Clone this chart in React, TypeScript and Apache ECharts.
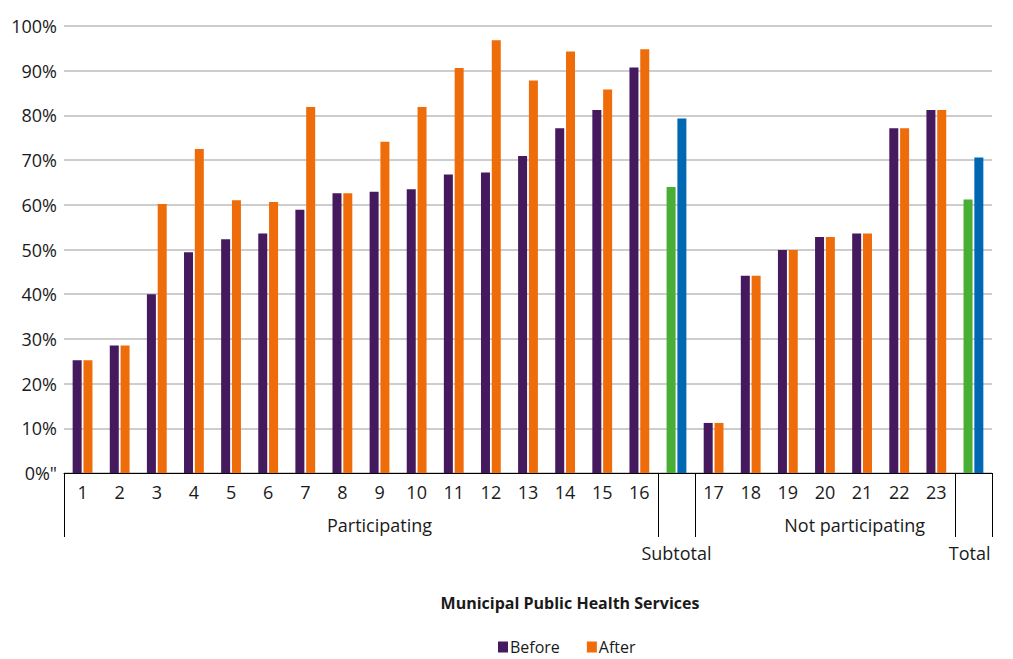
import React, { useEffect, useRef } from 'react';
import * as echarts from 'echarts';

const categories = [
  '1', '2', '3', '4', '5', '6', '7', '8', '9', '10', '11', '12', '13', '14', '15', '16',
  'Subtotal',
  '17', '18', '19', '20', '21', '22', '23',
  'Total',
];
const before = [
  25.2, 28.5, 40.0, 49.4, 52.3, 53.6, 58.9, 62.6, 62.9, 63.5, 66.8, 67.2, 70.9, 77.1, 81.2, 90.7,
  64.0,
  11.2, 44.1, 49.9, 52.8, 53.6, 77.1, 81.2,
  61.2,
];
const after = [
  25.2, 28.5, 60.2, 72.5, 61.0, 60.6, 81.9, 62.6, 74.1, 81.9, 90.6, 96.8, 87.8, 94.3, 85.8, 94.8,
  79.3,
  11.2, 44.1, 49.9, 52.8, 53.6, 77.1, 81.2,
  70.6,
];
const yTickLabels = ['0%"', '10%', '20%', '30%', '40%', '50%', '60%', '70%', '80%', '90%', '100%'];
const groupNames = ['Participating', 'Not participating'];
const totalNames = ['Subtotal', 'Total'];
const seriesNames = ['Before', 'After'];
const axisTitle = 'Municipal Public Health Services';

const PURPLE = '#45195d';
const ORANGE = '#ee6c09';
const GREEN = '#48ae34';
const BLUE = '#0068b2';
const TEXT = '#1a1a1a';
const FONT = '"Open Sans", "Noto Sans", sans-serif';

export default function App() {
  const ref = useRef<HTMLDivElement>(null);
  useEffect(() => {
    if (!ref.current) return;
    const chart = echarts.init(ref.current, undefined, { renderer: 'svg' });
    const isTotal = (i: number) => totalNames.includes(categories[i]);
    const boundaryIdx = categories
      .map((c, i) => (i === 0 || isTotal(i) || (i > 0 && isTotal(i - 1)) ? i : -1))
      .filter((i) => i >= 0);
    // group label placement on a 0..250 helper scale (tenths of a category band)
    const groupPos: Record<number, string> = { 85: groupNames[0], 213: groupNames[1] };
    const totalPos: Record<number, string> = { 165: totalNames[0], 244: totalNames[1] };

    const option: any = {
      animation: false,
      textStyle: { fontFamily: FONT },
      grid: { left: 64, right: 21, top: 26, bottom: 186, containLabel: false },
      legend: {
        data: seriesNames,
        left: 493,
        top: 634,
        icon: 'rect',
        itemWidth: 10,
        itemHeight: 11,
        itemGap: 27,
        textStyle: { fontSize: 16, color: TEXT, fontFamily: FONT, padding: [0, 0, 0, -3] },
      },
      graphic: [
        {
          type: 'text',
          x: 570,
          y: 603,
          style: {
            text: axisTitle,
            fontSize: 16,
            fontWeight: 'bold',
            fontFamily: FONT,
            fill: TEXT,
            textAlign: 'center',
            textVerticalAlign: 'middle',
          },
        },
      ],
      xAxis: [
        {
          type: 'category',
          data: categories,
          axisLine: { show: true, lineStyle: { color: '#000', width: 1 } },
          axisTick: {
            show: true,
            length: 64,
            interval: (i: number) => boundaryIdx.includes(i),
            lineStyle: { color: '#000', width: 1 },
          },
          axisLabel: {
            interval: 0,
            fontSize: 18,
            color: TEXT,
            margin: 10,
            fontFamily: FONT,
            formatter: (v: string) => (totalNames.includes(v) ? '' : v),
          },
        },
        {
          type: 'value',
          min: 0,
          max: 250,
          interval: 1,
          position: 'bottom',
          axisLine: { show: false },
          axisTick: { show: false },
          splitLine: { show: false },
          axisLabel: {
            show: true,
            showMinLabel: true,
            showMaxLabel: true,
            fontSize: 18,
            color: TEXT,
            margin: 43,
            fontFamily: FONT,
            formatter: (v: number) => groupPos[Math.round(v)] || '',
          },
        },
        {
          type: 'value',
          min: 0,
          max: 250,
          interval: 1,
          position: 'bottom',
          axisLine: { show: false },
          axisTick: { show: false },
          splitLine: { show: false },
          axisLabel: {
            show: true,
            showMinLabel: true,
            showMaxLabel: true,
            fontSize: 18,
            color: TEXT,
            margin: 71,
            fontFamily: FONT,
            formatter: (v: number) => totalPos[Math.round(v)] || '',
          },
        },
      ],
      yAxis: {
        type: 'value',
        min: 0,
        max: 100,
        interval: 10,
        axisLine: { show: false },
        axisTick: { show: false },
        splitLine: { show: true, lineStyle: { color: '#bdbdbd', width: 1.5 } },
        axisLabel: {
          fontSize: 18,
          color: TEXT,
          margin: 7,
          fontFamily: FONT,
          formatter: (v: number) => yTickLabels[Math.round(v / 10)],
        },
      },
      series: [
        {
          name: seriesNames[0],
          type: 'bar',
          barWidth: 9,
          barGap: '20%',
          itemStyle: { color: PURPLE },
          data: before.map((v, i) => (isTotal(i) ? { value: v, itemStyle: { color: GREEN } } : v)),
        },
        {
          name: seriesNames[1],
          type: 'bar',
          barWidth: 9,
          barGap: '20%',
          itemStyle: { color: ORANGE },
          data: after.map((v, i) => (isTotal(i) ? { value: v, itemStyle: { color: BLUE } } : v)),
        },
      ],
    };
    chart.setOption(option);
    return () => chart.dispose();
  }, []);
  return (
    <div
      ref={ref}
      style={{ position: 'absolute', left: 0, top: 0, width: 1013, height: 659, background: '#fff' }}
    />
  );
}
